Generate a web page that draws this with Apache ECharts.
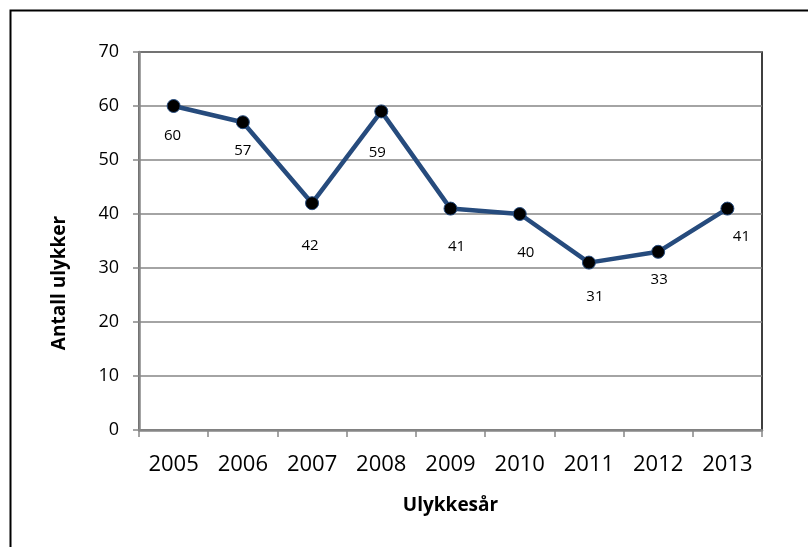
<!DOCTYPE html>
<html>
<head>
<meta charset="utf-8">
<script src="https://cdn.jsdelivr.net/npm/echarts@6/dist/echarts.min.js"></script>
<style>
  html, body { margin: 0; padding: 0; background: #fff; }
  #chart { width: 808px; height: 547px; }
</style>
</head>
<body>
<div id="chart"></div>
<script>
// data
var years = ['2005', '2006', '2007', '2008', '2009', '2010', '2011', '2012', '2013'];
var accidents = [60, 57, 42, 59, 41, 40, 31, 33, 41];
var yTicks = { min: 0, max: 70, step: 10 };

// where each data label sits relative to its point (Excel placed them by hand)
var labelShift = [[-1, 30], [0, 29], [-2, 43], [-4, 41], [6, 38], [6, 39], [6, 34], [1, 28], [14, 28]];

var font = '"Open Sans", "Noto Sans", sans-serif';
var lineBlue = '#264b7d';
var greyAxis = '#868686';

var chart = echarts.init(document.getElementById('chart'));

var points = accidents.map(function (v, i) {
  return {
    value: v,
    label: { offset: labelShift[i] }
  };
});

var option = {
  backgroundColor: '#fff',
  animation: false,
  grid: {
    left: 139,
    right: 46,
    top: 52,
    bottom: 117,
    show: true,
    borderColor: '#000',
    borderWidth: 1.5,
    backgroundColor: 'transparent'
  },
  graphic: [{
    type: 'rect',
    left: 8,
    top: 8,
    shape: { width: 830, height: 560 },
    style: { fill: 'none', stroke: '#000', lineWidth: 2 },
    silent: true
  }, {
    type: 'text',
    x: 60,
    y: 283,
    rotation: Math.PI / 2,
    style: {
      text: 'Antall ulykker',
      font: 'bold 19px ' + font,
      fill: '#000',
      align: 'center',
      verticalAlign: 'middle'
    }
  }],
  xAxis: {
    type: 'category',
    data: years,
    boundaryGap: true,
    name: 'Ulykkesår',
    nameLocation: 'middle',
    nameGap: 66,
    nameTextStyle: { fontFamily: font, fontSize: 19, fontWeight: 'bold', color: '#000' },
    axisLine: { lineStyle: { color: greyAxis, width: 2.5 } },
    axisTick: { show: true, length: 7, lineStyle: { color: greyAxis, width: 1.5 } },
    axisLabel: { fontFamily: font, fontSize: 22, color: '#000', margin: 24 },
    splitLine: { show: false }
  },
  yAxis: {
    type: 'value',
    min: yTicks.min,
    max: yTicks.max,
    interval: yTicks.step,
    axisLine: { show: true, lineStyle: { color: greyAxis, width: 2.5 } },
    axisTick: { show: true, length: 6, lineStyle: { color: greyAxis, width: 1.5 } },
    axisLabel: { fontFamily: font, fontSize: 18, color: '#000', margin: 20 },
    splitLine: { show: true, lineStyle: { color: greyAxis, width: 1.5 } }
  },
  series: [{
    name: 'Antall ulykker',
    type: 'line',
    data: points,
    symbol: 'circle',
    symbolSize: 13,
    lineStyle: { color: lineBlue, width: 4.5 },
    itemStyle: { color: '#000', borderColor: lineBlue, borderWidth: 1 },
    label: {
      show: true,
      position: 'inside',
      fontFamily: font,
      fontSize: 15,
      color: '#000'
    },
    z: 3
  }]
};

chart.setOption(option);
</script>
</body>
</html>
